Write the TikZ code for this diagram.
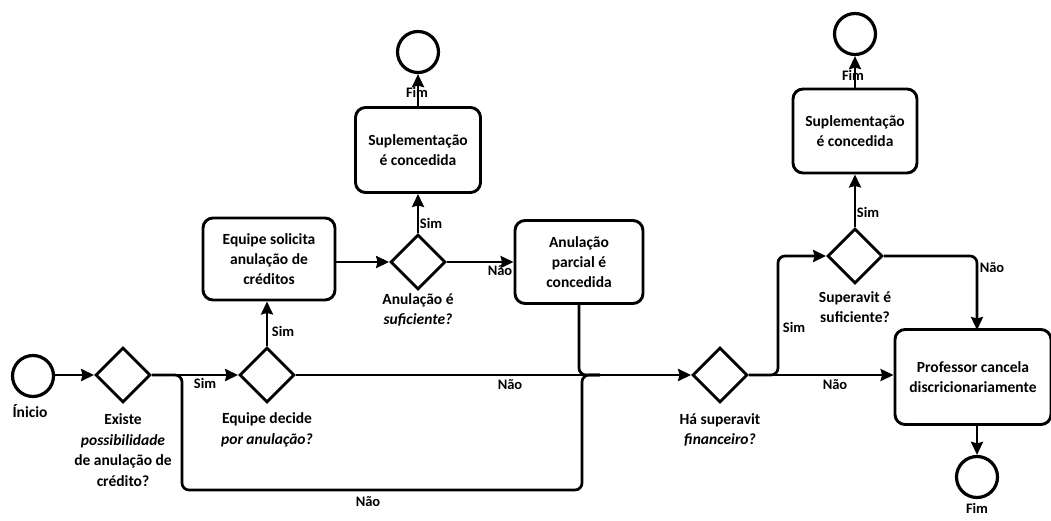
\documentclass[tikz,border=0pt]{standalone}
\usepackage{fontspec}
\setmainfont{Carlito}
\usetikzlibrary{shapes.geometric,arrows.meta}
\tikzset{
  flow/.style={line width=2.7pt, line join=round},
  arr/.style={flow, -{Stealth[length=13pt,width=12pt,inset=1.5pt]}},
  task/.style={draw, line width=2.9pt, rounded corners=10pt, align=center,
    font=\fontsize{15.5}{20}\selectfont\bfseries, inner sep=0pt},
  gate/.style={draw, line width=2.8pt, diamond, minimum width=55pt, minimum height=55pt,
    inner sep=0pt, aspect=1},
  event/.style={draw, line width=3.2pt, circle, minimum size=41pt, inner sep=0pt},
  lbl/.style={align=center, font=\fontsize{15.5}{20.5}\selectfont\bfseries, inner sep=0pt},
  tag/.style={font=\fontsize{14.5}{16}\selectfont\bfseries, inner sep=0pt}
}
\begin{document}
\begin{tikzpicture}[x=1pt,y=-1pt]
\useasboundingbox (0,0) rectangle (1051,521);

% events
\node[event] (start) at (33,376) {};
\node[lbl] (startlbl) at (30,411) {Ínicio};
\node[event] (end1) at (418,52) {};
\node[event] (end2) at (855,34) {};
\node[event] (end3) at (977,477) {};

% gateways
\node[gate] (d1) at (123,375) {};
\node[gate] (d2) at (267,375) {};
\node[gate] (d3) at (418,262) {};
\node[gate] (d4) at (720,375) {};
\node[gate] (d5) at (855,256) {};

\node[lbl] (d1lbl) at (123,450) {Existe\\\textit{possibilidade}\\de anulação de\\crédito?};
\node[lbl] (d2lbl) at (267,430) {Equipe decide\\\textit{por anulação?}};
\node[lbl] (d3lbl) at (418,310) {Anulação é\\\textit{suficiente?}};
\node[lbl] (d4lbl) at (720,430) {Há superavit\\\textit{financeiro?}};
\node[lbl] (d5lbl) at (855,307) {Superavit é\\suficiente?};

% tasks
\node[task, minimum width=132pt, minimum height=82pt] (req) at (269,259)
  {Equipe solicita\\anulação de\\créditos};
\node[task, minimum width=125pt, minimum height=85pt] (sup1) at (418,150)
  {Suplementação\\é concedida};
\node[task, minimum width=128pt, minimum height=83pt] (part) at (579,262)
  {Anulação\\parcial é\\concedida};
\node[task, minimum width=124pt, minimum height=84pt] (sup2) at (855,131)
  {Suplementação\\é concedida};
\node[task, minimum width=156pt, minimum height=95pt] (prof) at (973,377)
  {Professor cancela\\discricionariamente};

% junction points
\coordinate (j1) at (182,375);
\coordinate (lb) at (182,490);
\coordinate (rb) at (582,490);
\coordinate (j2) at (582,375);
\coordinate (j3) at (778,375);
\coordinate (m1) at (600,375);
\coordinate (pn) at (977,330);

% connectors
\draw[arr] (start.east |- d1.west) -- (d1.west);
\draw[arr] (d1.east) -- (d2.west);
\draw[flow, rounded corners=7pt] (d1.east) -- (j1) -- (lb) -- (rb) -- (j2) -- (m1);
\draw[arr] (d2.east) -- (d4.west);
\draw[arr] (d2.north) -- (d2.north |- req.south);
\draw[arr] (req.east |- d3.west) -- (d3.west);
\draw[arr] (d3.north) -- (sup1.south);
\draw[arr] (sup1.north) -- (end1.south);
\draw[arr] (d3.east) -- (part.west);
\draw[flow, rounded corners=7pt] (part.south) |- (m1);
\draw[arr] (d4.east) -- (d4.east -| prof.west);
\draw[arr, rounded corners=7pt] (d4.east) -- (j3) |- (d5.west);
\draw[arr] (d5.north) -- (sup2.south);
\draw[arr] (sup2.north) -- (end2.south);
\draw[arr, rounded corners=7pt] (d5.east) -| (pn);
\draw[arr] (prof.south -| end3) -- (end3.north);

% connector labels
\node[tag] at (205,383) {Sim};
\node[tag] at (368,502) {Não};
\node[tag] at (510,385) {Não};
\node[tag] at (283,331) {Sim};
\node[tag] at (431,223) {Sim};
\node[tag] at (500,271) {Não};
\node[tag] at (417,92) {Fim};
\node[tag] at (794,327) {Sim};
\node[tag] at (835,385) {Não};
\node[tag] at (868,212) {Sim};
\node[tag] at (853,75) {Fim};
\node[tag] at (992,268) {Não};
\node[tag] at (977,508) {Fim};
\end{tikzpicture}
\end{document}
